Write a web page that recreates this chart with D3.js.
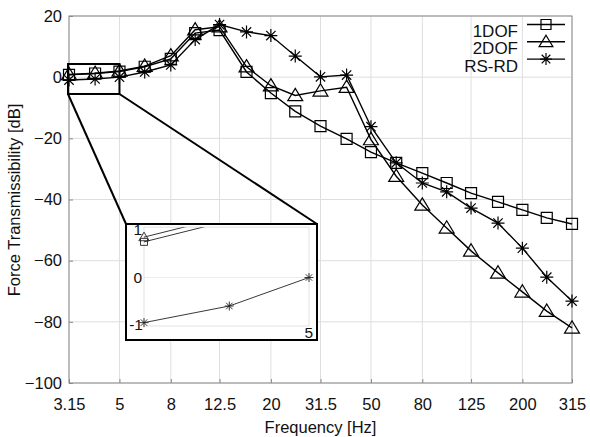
<!DOCTYPE html>
<html>
<head>
<meta charset="utf-8">
<script src="https://cdn.jsdelivr.net/npm/d3@7"></script>
<style>
  body { margin: 0; background: #fff; }
  text { font-family: "Liberation Sans", Arial, sans-serif; fill: #111; }
</style>
</head>
<body>
<div id="chart"></div>
<script>
// one-third octave band centres
const freqs = [3.15, 4, 5, 6.3, 8, 10, 12.5, 16, 20, 25, 31.5, 40, 50, 63, 80, 100, 125, 160, 200, 250, 315];
const xTickVals = [3.15, 5, 8, 12.5, 20, 31.5, 50, 80, 125, 200, 315];
const yTickVals = [20, 0, -20, -40, -60, -80, -100];

const dof1 = [0.75, 1.2, 1.8, 3.4, 6, 14.4, 15.4, 1.7, -5.2, -11.2, -16, -20.2, -24.5, -28, -31.4, -34.6, -37.9, -40.8, -43.4, -46, -48];
const dof2 = [0.85, 1.3, 2.0, 3.6, 7, 15.5, 16.5, 3.4, -2.8, -6.0, -4.5, -3.3, -20.4, -32.4, -41.8, -49.3, -56.8, -64, -70.2, -76.5, -82];
const rsrd = [-0.95, -0.6, 0, 1.7, 4, 12.3, 17.2, 14.8, 13.6, 6.9, 0.1, 0.7, -16.2, -28, -34.6, -37.5, -42.8, -47.7, -55.9, -65.4, -73.2];

const seriesNames = ["1DOF", "2DOF", "RS-RD"];
const seriesVals = [dof1, dof2, rsrd];
const seriesMarks = ["square", "triangle", "star"];

// zoomed region and inset ticks
const zoomX = [3.15, 5];
const zoomY = [-5.5, 4.3];
const insetYTicks = [1, 0, -1];

const width = 590, height = 437;
const svg = d3.select("#chart").append("svg")
    .attr("width", width).attr("height", height);

const x = d3.scaleLog().domain([3.15, 315]).range([69, 572]);
const y = d3.scaleLinear().domain([-100, 20]).range([383, 16]);

// marker paths centred on 0,0
function marker(type, s) {
    const h = s / 2;
    if (type === "square") return `M${-h},${-h}H${h}V${h}H${-h}Z`;
    if (type === "triangle") return `M0,${-h * 1.1}L${h * 1.15},${h * 0.8}L${-h * 1.15},${h * 0.8}Z`;
    const d = h * 0.72;
    return `M${-h},0H${h}M0,${-h}V${h}M${-d},${-d}L${d},${d}M${-d},${d}L${d},${-d}`;
}

// grid
const grid = svg.append("g");
xTickVals.forEach(v => {
    grid.append("line").attr("x1", x(v)).attr("x2", x(v)).attr("y1", y(20)).attr("y2", y(-100))
        .attr("stroke", "#dedede").attr("stroke-width", 1);
});
yTickVals.forEach(v => {
    grid.append("line").attr("x1", x(3.15)).attr("x2", x(315)).attr("y1", y(v)).attr("y2", y(v))
        .attr("stroke", "#dedede").attr("stroke-width", 1);
});

// axes
const xAxis = svg.append("g").attr("transform", `translate(0,${y(-100)})`)
    .call(d3.axisBottom(x).tickValues(xTickVals).tickFormat(d => d).tickSizeInner(-4).tickSizeOuter(0).tickPadding(15));
const yAxis = svg.append("g").attr("transform", `translate(${x(3.15)},0)`)
    .call(d3.axisLeft(y).tickValues(yTickVals).tickSizeInner(-4).tickSizeOuter(0).tickPadding(7));
[xAxis, yAxis].forEach(a => {
    a.select(".domain").remove();
    a.selectAll(".tick line").attr("stroke", "#888");
    a.selectAll("text").attr("font-size", 16.5).attr("fill", "#111")
        .style("font-family", "'Liberation Sans', Arial, sans-serif");
});
svg.append("rect").attr("x", x(3.15)).attr("y", y(20))
    .attr("width", x(315) - x(3.15)).attr("height", y(-100) - y(20))
    .attr("fill", "none").attr("stroke", "#8a8a8a").attr("stroke-width", 1);

svg.append("text").attr("x", (x(3.15) + x(315)) / 2).attr("y", 433)
    .attr("text-anchor", "middle").attr("font-size", 16.5).text("Frequency [Hz]");
svg.append("text").attr("transform", `translate(20,200) rotate(-90)`)
    .attr("text-anchor", "middle").attr("font-size", 16.5).text("Force Transmissibility [dB]");

// series
const line = d3.line().x((d, i) => x(freqs[i])).y(d => y(d));
seriesVals.forEach((vals, k) => {
    svg.append("path").attr("d", line(vals)).attr("fill", "none")
        .attr("stroke", "#000").attr("stroke-width", 1.4);
    svg.append("g").selectAll("path").data(vals).join("path")
        .attr("transform", (d, i) => `translate(${x(freqs[i])},${y(d)})`)
        .attr("d", marker(seriesMarks[k], seriesMarks[k] === "square" ? 11 : 13))
        .attr("fill", "none").attr("stroke", "#000").attr("stroke-width", 1.2);
});

// zoom box on main plot
const zx0 = x(zoomX[0]) - 1, zx1 = x(zoomX[1]), zy0 = y(zoomY[1]), zy1 = y(zoomY[0]);
svg.append("rect").attr("x", zx0).attr("y", zy0).attr("width", zx1 - zx0).attr("height", zy1 - zy0)
    .attr("fill", "none").attr("stroke", "#000").attr("stroke-width", 2);

// inset
const inset = { left: 126, right: 317, top: 224, bottom: 340 };
const xi = d3.scaleLog().domain(zoomX).range([144, 309]);
const yi = d3.scaleLinear().domain([-1, 1]).range([325, 230]);

svg.append("line").attr("x1", zx0).attr("y1", zy1).attr("x2", inset.left).attr("y2", inset.top)
    .attr("stroke", "#000").attr("stroke-width", 2);
svg.append("line").attr("x1", zx1).attr("y1", zy1).attr("x2", inset.right).attr("y2", inset.top)
    .attr("stroke", "#000").attr("stroke-width", 2);

svg.append("rect").attr("x", inset.left).attr("y", inset.top)
    .attr("width", inset.right - inset.left).attr("height", inset.bottom - inset.top)
    .attr("fill", "#fff").attr("stroke", "#000").attr("stroke-width", 2);

const iTop = yi(1.06), iBot = yi(-1.02);
svg.append("line").attr("x1", xi(zoomX[0])).attr("x2", xi(zoomX[1])).attr("y1", yi(0)).attr("y2", yi(0))
    .attr("stroke", "#ececec");
svg.append("rect").attr("x", xi(zoomX[0])).attr("y", iTop)
    .attr("width", xi(zoomX[1]) - xi(zoomX[0])).attr("height", iBot - iTop)
    .attr("fill", "none").attr("stroke", "#e2e2e2");

svg.append("clipPath").attr("id", "insetClip").append("rect")
    .attr("x", xi(zoomX[0]) - 8).attr("y", iTop)
    .attr("width", xi(zoomX[1]) - xi(zoomX[0]) + 16).attr("height", iBot - iTop + 8);

const insetG = svg.append("g").attr("clip-path", "url(#insetClip)");
const lineI = d3.line().x((d, i) => xi(freqs[i])).y(d => yi(d));
seriesVals.forEach((vals, k) => {
    const sub = vals.slice(0, 3);
    insetG.append("path").attr("d", lineI(sub)).attr("fill", "none")
        .attr("stroke", "#222").attr("stroke-width", 0.9);
    insetG.append("g").selectAll("path").data(sub.filter(v => v <= 1.05)).join("path")
        .attr("transform", (d, i) => `translate(${xi(freqs[i])},${yi(d)})`)
        .attr("d", marker(seriesMarks[k], seriesMarks[k] === "square" ? 7 : 9))
        .attr("fill", "none").attr("stroke", "#222").attr("stroke-width", 0.9);
});

insetYTicks.forEach(v => {
    svg.append("text").attr("x", v < 0 ? 143 : 142).attr("y", yi(v)).attr("dy", "0.35em")
        .attr("text-anchor", "end").attr("font-size", 15.5).text(v);
});
svg.append("text").attr("x", xi(zoomX[1]) + 4).attr("y", 338)
    .attr("text-anchor", "end").attr("font-size", 15.5).text(zoomX[1]);

// legend
const legend = svg.append("g");
seriesNames.forEach((name, k) => {
    const base = 37 + k * 17.3;
    const ly = base - 12.5;
    legend.append("text").attr("x", 518).attr("y", base).attr("text-anchor", "end")
        .attr("font-size", 17).text(name);
    legend.append("line").attr("x1", 527).attr("x2", 565).attr("y1", ly).attr("y2", ly)
        .attr("stroke", "#000").attr("stroke-width", 1.4);
    legend.append("path").attr("transform", `translate(546,${ly})`)
        .attr("d", marker(seriesMarks[k], seriesMarks[k] === "square" ? 10 : 12))
        .attr("fill", "none").attr("stroke", "#000").attr("stroke-width", 1.2);
});
</script>
</body>
</html>
